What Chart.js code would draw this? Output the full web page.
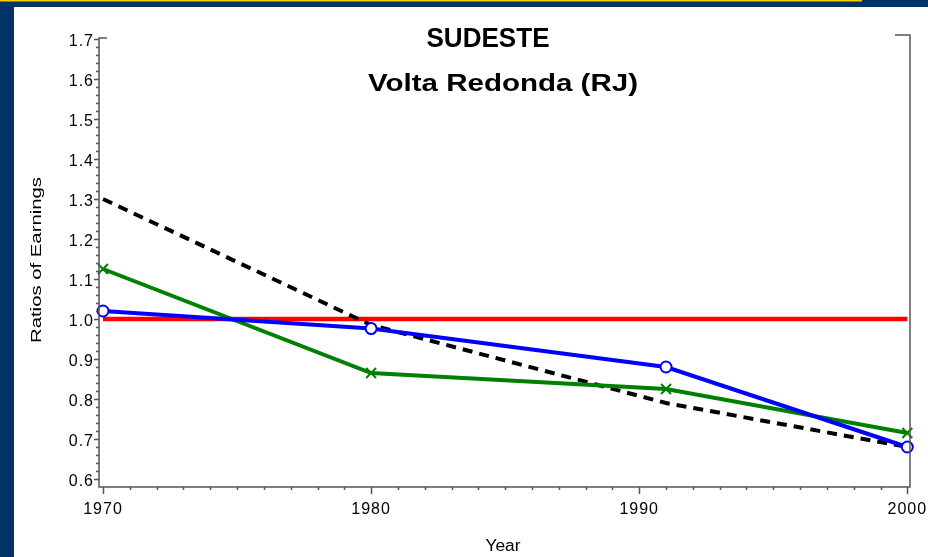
<!DOCTYPE html>
<html>
<head>
<meta charset="utf-8">
<script src="https://cdn.jsdelivr.net/npm/chart.js@4.4.0/dist/chart.umd.min.js"></script>
<style>
    html, body { margin: 0; padding: 0; background: #fff; }
    canvas { display: block; }
</style>
</head>
<body>
<canvas id="grafico" width="928" height="557"></canvas>
<script>
// datos
const anios = [1970, 1980, 1991, 2000];
const serieAzul = [1.02, 0.976, 0.88, 0.68];
const serieVerde = [1.125, 0.865, 0.825, 0.715];
const serieNegra = [1.30, 0.985, 0.79, 0.68];
const aniosRef = [1970, 2000];
const serieRoja = [1.0, 1.0];
const ticksY = [0.6, 0.7, 0.8, 0.9, 1.0, 1.1, 1.2, 1.3, 1.4, 1.5, 1.6, 1.7];
const ticksX = [1970, 1980, 1990, 2000];

const puntos = (xs, ys) => xs.map((x, i) => ({ x, y: ys[i] }));

const fuente = "'Liberation Sans', Arial, Helvetica, sans-serif";

function texto(ctx, str, x, y, font, ancho, rot) {
    ctx.save();
    ctx.letterSpacing = "0px";
    ctx.font = font;
    ctx.fillStyle = "#000";
    ctx.textAlign = "center";
    ctx.textBaseline = "middle";
    ctx.translate(x, y);
    if (rot) ctx.rotate(rot);
    if (ancho) {
        const w = ctx.measureText(str).width;
        ctx.scale(ancho / w, 1);
    }
    ctx.fillText(str, 0, 0);
    ctx.restore();
}

const moldura = {
    id: "moldura",
    beforeDraw(chart) {
        const ctx = chart.ctx;
        ctx.save();
        ctx.fillStyle = "#003366";
        ctx.fillRect(0, 0, chart.width, chart.height);
        ctx.fillStyle = "#ffcc00";
        ctx.fillRect(0, 0, 862, 1.5);
        ctx.fillStyle = "#fff";
        ctx.fillRect(14, 7, chart.width - 14, chart.height - 7);
        ctx.restore();
        ctx.letterSpacing = "1px";
    },
    afterDraw(chart) {
        const ctx = chart.ctx;
        const a = chart.chartArea;
        const x = chart.scales.x, y = chart.scales.y;
        ctx.save();
        ctx.letterSpacing = "0px";
        ctx.strokeStyle = "#555";
        ctx.lineWidth = 1.5;
        ctx.beginPath();
        ctx.moveTo(a.left + 8, a.top);
        ctx.lineTo(a.left, a.top);
        ctx.lineTo(a.left, a.bottom);
        ctx.lineTo(a.right, a.bottom);
        ctx.lineTo(a.right, a.top - 3);
        ctx.lineTo(a.right - 15, a.top - 3);
        // marcas menores y mayores
        for (let v = 60; v <= 170; v += 2) {
            const py = Math.round(y.getPixelForValue(v / 100)) + 0.5;
            const largo = v % 10 === 0 ? 5 : 3;
            ctx.moveTo(a.left, py);
            ctx.lineTo(a.left - largo, py);
        }
        for (let v = 1970; v <= 2000; v++) {
            const px = Math.round(x.getPixelForValue(v)) + 0.5;
            const largo = v % 10 === 0 ? 7 : 3;
            ctx.moveTo(px, a.bottom);
            ctx.lineTo(px, a.bottom + largo);
        }
        ctx.stroke();
        ctx.restore();

        texto(ctx, "SUDESTE", 488, 39, "bold 28px " + fuente, 123);
        texto(ctx, "Volta Redonda (RJ)", 503, 85, "bold 23px " + fuente, 270);
        texto(ctx, "Year", 503, 547, "16px " + fuente, 35);
        texto(ctx, "Ratios of Earnings", 37, 260, "15px " + fuente, 166, -Math.PI / 2);
    }
};

new Chart(document.getElementById("grafico"), {
    type: "line",
    data: {
        datasets: [
            {
                label: "azul",
                data: puntos(anios, serieAzul),
                borderColor: "#0000ff",
                borderWidth: 4,
                pointStyle: "circle",
                pointRadius: 5.5,
                pointBorderWidth: 2,
                pointBackgroundColor: "#fff",
                pointBorderColor: "#0000ff"
            },
            {
                label: "verde",
                data: puntos(anios, serieVerde),
                borderColor: "#008000",
                borderWidth: 4,
                pointStyle: "crossRot",
                pointRadius: 7,
                pointBorderWidth: 2,
                pointBorderColor: "#008000"
            },
            {
                label: "negra",
                data: puntos(anios, serieNegra),
                borderColor: "#000",
                borderWidth: 4,
                borderDash: [10, 7],
                pointRadius: 0
            },
            {
                label: "roja",
                data: puntos(aniosRef, serieRoja),
                borderColor: "#ff0000",
                borderWidth: 4.5,
                pointRadius: 0
            }
        ]
    },
    options: {
        responsive: false,
        animation: false,
        devicePixelRatio: 1,
        clip: false,
        layout: { padding: { left: 0, right: 18, top: 38, bottom: 0 } },
        elements: { line: { tension: 0, borderCapStyle: "butt" } },
        scales: {
            x: {
                type: "linear",
                min: 1969.85,
                max: 2000.1,
                afterFit: s => { s.height = 70; s.paddingLeft = 0; s.paddingRight = 0; },
                afterBuildTicks: s => { s.ticks = ticksX.map(v => ({ value: v })); },
                grid: { display: false, drawTicks: false },
                border: { display: false },
                ticks: {
                    color: "#000",
                    padding: 13,
                    maxRotation: 0,
                    autoSkip: false,
                    font: { family: fuente, size: 16 },
                    callback: v => String(v)
                }
            },
            y: {
                min: 0.58,
                max: 1.7025,
                afterFit: s => { s.width = 99; s.paddingTop = 0; s.paddingBottom = 0; },
                afterBuildTicks: s => { s.ticks = ticksY.map(v => ({ value: v })); },
                grid: { display: false, drawTicks: false },
                border: { display: false },
                ticks: {
                    color: "#000",
                    padding: 5,
                    labelOffset: 3,
                    autoSkip: false,
                    font: { family: fuente, size: 16 },
                    callback: v => v.toFixed(1)
                }
            }
        },
        plugins: {
            legend: { display: false },
            tooltip: { enabled: false },
            title: { display: false }
        }
    },
    plugins: [moldura]
});
</script>
</body>
</html>
